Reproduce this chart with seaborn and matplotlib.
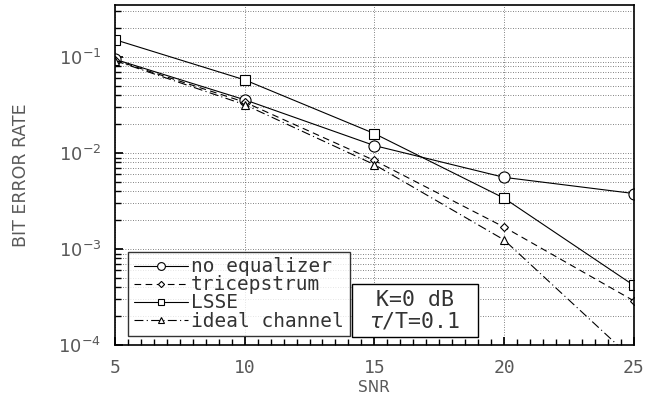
import matplotlib
matplotlib.use("Agg")
import matplotlib.pyplot as plt
import seaborn as sns
import numpy as np
import pandas as pd
from matplotlib.ticker import LogLocator, MultipleLocator, FixedLocator
from matplotlib.patches import Rectangle

snr = [5, 10, 15, 20, 25]
no_equalizer = [0.095, 0.036, 0.012, 0.0056, 0.0038]
tricepstrum = [0.093, 0.034, 0.0084, 0.0017, 0.00029]
lsse = [0.152, 0.058, 0.016, 0.0034, 0.00042]
ideal_channel = [0.092, 0.032, 0.0076, 0.00125, 0.00007]

labels = ["no equalizer", "tricepstrum", "LSSE", "ideal channel"]
series = [no_equalizer, tricepstrum, lsse, ideal_channel]
markers = ["o", "D", "s", "^"]
msizes = [8, 4.5, 7, 6]
dashes = ["-", (0, (6, 4)), "-", (0, (8, 3, 1, 3))]

sns.set_theme(style="white")
plt.rcParams['font.family'] = ['DejaVu Sans Mono', 'DejaVu Sans']
plt.rcParams['mathtext.fontset'] = 'dejavusans'

fig = plt.figure(figsize=(6.46, 4.09), dpi=100)
ax = fig.add_axes([0.178, 0.156, 0.803, 0.832])

for lab, vals, mk, ms, ls in zip(labels, series, markers, msizes, dashes):
    df = pd.DataFrame({"SNR": snr, "BER": vals})
    sns.lineplot(data=df, x="SNR", y="BER", ax=ax, color="black", lw=0.8,
                 marker=mk, markersize=ms, markerfacecolor="white",
                 markeredgecolor="black", markeredgewidth=0.8,
                 linestyle=ls, label=lab)

ax.set_yscale("log")
ax.set_xlim(5, 25)
ax.set_ylim(1e-4, 0.35)
ax.set_xticks([5, 10, 15, 20, 25])
ax.set_xticklabels(["5", "10", "15", "20", "25"])
ax.xaxis.set_minor_locator(MultipleLocator(0.5))
ax.yaxis.set_major_locator(FixedLocator([1e-4, 1e-3, 1e-2, 1e-1]))
ax.set_yticklabels([r"$10^{-4}$", r"$10^{-3}$", r"$10^{-2}$", r"$10^{-1}$"])
ax.yaxis.set_minor_locator(LogLocator(base=10, subs=np.arange(2, 10)))
ax.yaxis.set_minor_formatter(plt.NullFormatter())

ax.grid(which="both", axis="y", linestyle=(0, (1, 2)), color="0.35", lw=0.6)
ax.grid(which="major", axis="x", linestyle=(0, (1, 2)), color="0.35", lw=0.6)

ax.tick_params(which="both", direction="in", top=False, right=False,
               left=True, bottom=True, colors="black", labelcolor="0.35",
               labelsize=13)
ax.tick_params(which="major", length=6, pad=10)
ax.tick_params(which="minor", length=4)
for s in ax.spines.values():
    s.set_color("black")
    s.set_linewidth(1.2)

ax.set_xlabel("SNR", fontsize=11, color="0.35", family="DejaVu Sans", labelpad=2)
ax.set_ylabel("BIT ERROR RATE", fontsize=12.5, color="0.35", family="DejaVu Sans",
              labelpad=20)

leg = ax.legend(loc="lower left", bbox_to_anchor=(0.025, 0.026), fontsize=14,
                handlelength=2.8, handletextpad=0.15, labelspacing=-0.05,
                borderpad=0.3, borderaxespad=0.0, frameon=True, fancybox=False,
                markerscale=0.7)
leg.get_frame().set_edgecolor("black")
leg.get_frame().set_linewidth(1.0)
for t in leg.get_texts():
    t.set_color("0.2")

box = Rectangle((0.457, 0.0235), 0.242, 0.1555, transform=ax.transAxes,
                facecolor="white", edgecolor="black", lw=1.0, zorder=5)
ax.add_patch(box)
ax.text(0.578, 0.101, "K=0 dB\n$\\tau$/T=0.1", transform=ax.transAxes,
        fontsize=15.5, color="0.2", va="center", ha="center", linespacing=1.0,
        zorder=6)

fig.savefig("out.png", dpi=100)
